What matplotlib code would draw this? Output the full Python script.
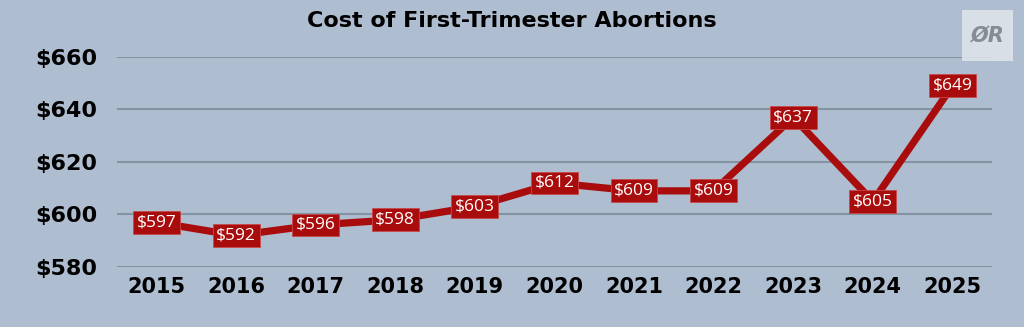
import matplotlib
matplotlib.use("Agg")
import matplotlib.pyplot as plt
from matplotlib.patches import Rectangle

# yearly cost of a first-trimester abortion
years = ["2015", "2016", "2017", "2018", "2019", "2020",
         "2021", "2022", "2023", "2024", "2025"]
cost = [597, 592, 596, 598, 603, 612, 609, 609, 637, 605, 649]
yticks = [580, 600, 620, 640, 660]

bg = '#afbdd1'
red = '#a90c0c'
gridc = '#8592a1'

plt.rcParams['font.family'] = ['DejaVu Sans']

fig = plt.figure(figsize=(10.24, 3.27), dpi=100, facecolor=bg)
ax = fig.add_axes([0.114, 0.1835, 0.855, 0.6422])
ax.set_facecolor(bg)

x = list(range(len(years)))
ax.plot(x, cost, color=red, linewidth=5.2, solid_joinstyle='miter', zorder=3)

for i, v in zip(x, cost):
    ax.text(i, v, '$' + str(v), ha='center', va='center', color='white',
            fontsize=12.5, family=['Open Sans', 'DejaVu Sans'], zorder=4,
            bbox=dict(boxstyle='square,pad=0.2', fc=red, ec='#c8484a', lw=0.6))

ax.set_xlim(-0.5, len(years) - 0.5)
ax.set_ylim(580, 660)
ax.set_yticks(yticks)
ax.set_yticklabels(['$' + str(t) for t in yticks])
ax.set_xticks(x)
ax.set_xticklabels(years)
ax.tick_params(length=0)
ax.tick_params(axis='y', pad=14, labelsize=16)
ax.tick_params(axis='x', pad=7, labelsize=15)
for lab in ax.get_xticklabels() + ax.get_yticklabels():
    lab.set_fontweight('bold')
    lab.set_color('black')
ax.grid(axis='y', color=gridc, linewidth=1.5, zorder=0)
ax.set_axisbelow(True)
for s in ax.spines.values():
    s.set_visible(False)

fig.text(0.5, 0.935, 'Cost of First-Trimester Abortions', ha='center', va='center',
         fontsize=16, fontweight='bold', color='black')

# small logo badge in the top right corner
fig.patches.append(Rectangle((962 / 1024, 1 - 61 / 327), 51 / 1024, 51 / 327,
                             transform=fig.transFigure, fc='#dde3ea', ec='none', alpha=0.9))
fig.text(987.5 / 1024, 1 - 36 / 327, 'ØR', ha='center', va='center', fontsize=15,
         fontweight='bold', style='italic', color='#858c94')

fig.savefig('out.png', dpi=100, facecolor=bg)
